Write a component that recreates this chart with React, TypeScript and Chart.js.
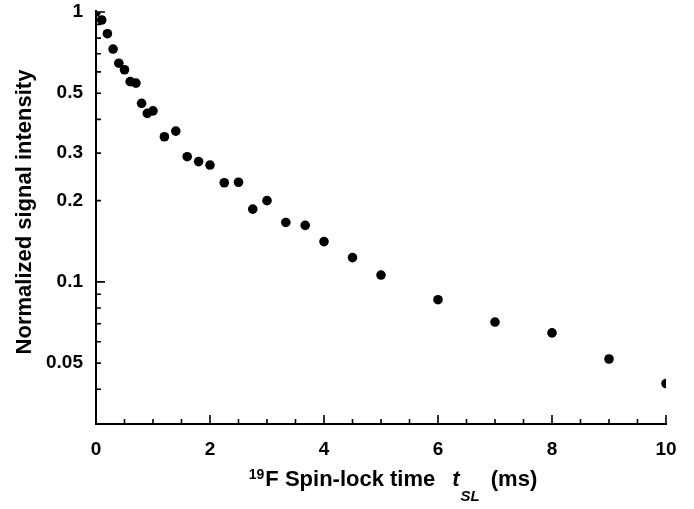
import React, { useEffect, useRef } from "react";
import { Chart, registerables } from "chart.js";

Chart.register(...registerables);

// ---- Data ----
const spinLockTimes = [0, 0.1, 0.2, 0.3, 0.4, 0.5, 0.6, 0.7, 0.8, 0.9, 1.0, 1.2, 1.4, 1.6, 1.8, 2.0, 2.25, 2.5, 2.75, 3.0, 3.33, 3.67, 4, 4.5, 5, 6, 7, 8, 9, 10];
const signalIntensity = [1.0, 0.934, 0.831, 0.729, 0.646, 0.611, 0.552, 0.545, 0.459, 0.421, 0.43, 0.345, 0.362, 0.291, 0.279, 0.271, 0.233, 0.234, 0.186, 0.2, 0.166, 0.162, 0.141, 0.123, 0.106, 0.0859, 0.071, 0.0647, 0.0518, 0.042];

// ---- Ticks ----
const yLabelTicks = [1, 0.5, 0.3, 0.2, 0.1, 0.05];
const yDecadeTicks = [1, 0.1];
const yMinorTicks = [0.9, 0.8, 0.7, 0.6, 0.5, 0.4, 0.3, 0.2, 0.09, 0.08, 0.07, 0.06, 0.05, 0.04];
const xLabelTicks = [0, 2, 4, 6, 8, 10];
const xMinorTicks = [0.5, 1, 1.5, 2.5, 3, 3.5, 4.5, 5, 5.5, 6.5, 7, 7.5, 8.5, 9, 9.5];
const yMin = 0.03;
const yMax = 1;
const xMin = 0;
const xMax = 10;

// ---- Titles ----
const yTitle = "Normalized signal intensity";
const xTitleSup = "19";
const xTitleMain = "F Spin-lock time";
const xTitleVar = "t";
const xTitleSub = "SL";
const xTitleUnit = "(ms)";

const FONT = "'Liberation Sans', Arial, Helvetica, sans-serif";

const axesPlugin = {
  id: "customAxes",
  beforeDatasetsDraw(chart: any) {
    const { ctx, scales } = chart;
    const xs = scales.x;
    const ys = scales.y;
    const x0 = xs.getPixelForValue(xMin);
    const x1 = xs.getPixelForValue(xMax);
    const yTop = ys.getPixelForValue(yMax);
    const yBot = ys.getPixelForValue(yMin);
    ctx.save();
    ctx.strokeStyle = "#000";
    ctx.lineWidth = 2;
    ctx.lineCap = "butt";
    ctx.beginPath();
    ctx.moveTo(x0, yTop - 2);
    ctx.lineTo(x0, yBot + 1);
    ctx.lineTo(x1 + 1, yBot + 1);
    ctx.stroke();

    ctx.lineWidth = 1.6;
    ctx.beginPath();
    yDecadeTicks.forEach((v) => {
      const p = ys.getPixelForValue(v);
      ctx.moveTo(x0, p);
      ctx.lineTo(x0 + 9, p);
    });
    yMinorTicks.forEach((v) => {
      const p = ys.getPixelForValue(v);
      ctx.moveTo(x0, p);
      ctx.lineTo(x0 + 5, p);
    });
    xLabelTicks.forEach((v) => {
      const p = xs.getPixelForValue(v);
      ctx.moveTo(p, yBot);
      ctx.lineTo(p, yBot - 8);
    });
    xMinorTicks.forEach((v) => {
      const p = xs.getPixelForValue(v);
      ctx.moveTo(p, yBot);
      ctx.lineTo(p, yBot - 4);
    });
    ctx.stroke();
    ctx.restore();
  },
  afterDraw(chart: any) {
    const { ctx } = chart;
    ctx.save();
    ctx.fillStyle = "#000";

    // y-axis title (rotated)
    ctx.save();
    ctx.translate(25, 212);
    ctx.rotate(-Math.PI / 2);
    ctx.font = `bold 22px ${FONT}`;
    ctx.textAlign = "center";
    ctx.textBaseline = "middle";
    ctx.fillText(yTitle, 0, 0);
    ctx.restore();

    // x-axis title with superscript and subscript
    const fMain = `bold 22px ${FONT}`;
    const fSup = `bold 14px ${FONT}`;
    const fVar = `italic bold 22px ${FONT}`;
    const fSub = `italic bold 15px ${FONT}`;
    const gap1 = 17;
    const gap2 = 11;
    ctx.textBaseline = "alphabetic";
    ctx.textAlign = "left";
    ctx.font = fSup;
    const wSup = ctx.measureText(xTitleSup).width;
    ctx.font = fMain;
    const wMain = ctx.measureText(xTitleMain).width;
    const wUnit = ctx.measureText(xTitleUnit).width;
    ctx.font = fVar;
    const wVar = ctx.measureText(xTitleVar).width;
    ctx.font = fSub;
    const wSub = ctx.measureText(xTitleSub).width;
    const total = wSup + 1 + wMain + gap1 + wVar + 1 + wSub + gap2 + wUnit;
    const cx = 393;
    const base = 486;
    let px = cx - total / 2;
    ctx.font = fSup;
    ctx.fillText(xTitleSup, px, base - 7);
    px += wSup + 1;
    ctx.font = fMain;
    ctx.fillText(xTitleMain, px, base);
    px += wMain + gap1;
    ctx.font = fVar;
    ctx.fillText(xTitleVar, px, base);
    px += wVar + 1;
    ctx.font = fSub;
    ctx.fillText(xTitleSub, px, base + 15);
    px += wSub + gap2;
    ctx.font = fMain;
    ctx.fillText(xTitleUnit, px, base);
    ctx.restore();
  },
};

export default function App() {
  const canvasRef = useRef<HTMLCanvasElement | null>(null);

  useEffect(() => {
    const canvas = canvasRef.current;
    if (!canvas) return;
    const points = spinLockTimes.map((t, i) => ({ x: t, y: signalIntensity[i] }));
    const tickFont = { family: FONT, size: 19, weight: "bold" as const };
    const chart = new Chart(canvas, {
      type: "scatter",
      data: {
        datasets: [
          {
            label: "Signal",
            data: points,
            backgroundColor: "#000",
            borderColor: "#000",
            pointRadius: 4.8,
            pointHoverRadius: 4.8,
            borderWidth: 0,
          },
        ],
      },
      options: {
        animation: false,
        responsive: false,
        maintainAspectRatio: false,
        devicePixelRatio: 1,
        layout: { padding: { top: 12, right: 28, left: 0, bottom: 0 } },
        plugins: {
          legend: { display: false },
          tooltip: { enabled: false },
          title: { display: false },
        },
        scales: {
          x: {
            type: "linear",
            min: xMin,
            max: xMax,
            grid: { display: false, drawTicks: false },
            border: { display: false },
            afterBuildTicks: (scale: any) => {
              scale.ticks = xLabelTicks.map((v) => ({ value: v }));
            },
            afterFit: (scale: any) => {
              scale.height = 86;
              scale.paddingLeft = 0;
              scale.paddingRight = 0;
            },
            ticks: {
              autoSkip: false,
              maxRotation: 0,
              padding: 15,
              color: "#000",
              font: tickFont,
              callback: (v: any) => String(v),
            },
          },
          y: {
            type: "logarithmic",
            min: yMin,
            max: yMax,
            grid: { display: false, drawTicks: false },
            border: { display: false },
            afterBuildTicks: (scale: any) => {
              scale.ticks = yLabelTicks.map((v) => ({ value: v }));
            },
            afterFit: (scale: any) => {
              scale.width = 96;
              scale.paddingTop = 0;
              scale.paddingBottom = 0;
            },
            ticks: {
              autoSkip: false,
              padding: 13,
              color: "#000",
              font: tickFont,
              callback: (v: any) => String(v),
            },
          },
        },
      },
      plugins: [axesPlugin],
    });
    return () => chart.destroy();
  }, []);

  return (
    <div style={{ position: "absolute", left: 0, top: 0, width: 694, height: 509, background: "#fff" }}>
      <canvas ref={canvasRef} width={694} height={509} style={{ width: 694, height: 509, display: "block" }} />
    </div>
  );
}
